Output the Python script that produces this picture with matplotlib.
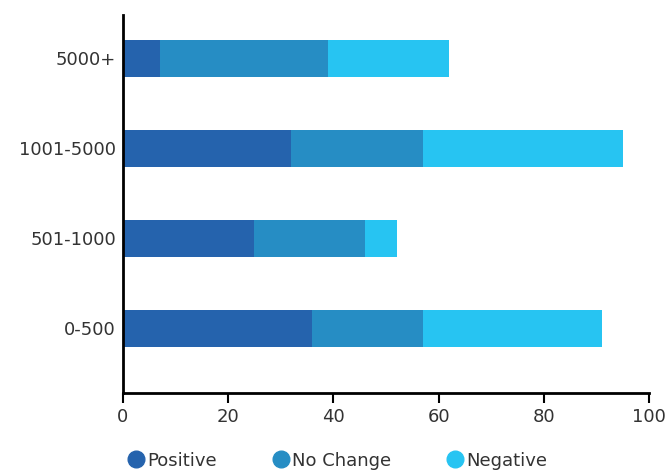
import matplotlib.pyplot as plt
from matplotlib.lines import Line2D

categories = ["0-500", "501-1000", "1001-5000", "5000+"]
positive = [36, 25, 32, 7]
no_change = [21, 21, 25, 32]
negative = [34, 6, 38, 23]

colors = ["#2563ad", "#268dc4", "#27c4f2"]
labels = ["Positive", "No Change", "Negative"]

plt.rcParams["font.family"] = ["DejaVu Sans"]

fig = plt.figure(figsize=(6.68, 4.75), dpi=100)
ax = fig.add_axes([0.1841, 0.1726, 0.7875, 0.7958])

y = range(len(categories))
left = [0] * len(categories)
for vals, color in zip([positive, no_change, negative], colors):
    ax.barh(y, vals, left=left, height=0.41, color=color)
    left = [a + b for a, b in zip(left, vals)]

ax.set_xlim(0, 100)
ax.set_ylim(-0.72, 3.48)
ax.set_xticks([0, 20, 40, 60, 80, 100])
ax.set_yticks(list(y))
ax.set_yticklabels(categories)
ax.tick_params(axis="both", labelsize=13, colors="#333333")
ax.tick_params(axis="y", length=0, pad=5)
ax.tick_params(axis="x", length=7, width=1.5, color="black")
for s in ["top", "right"]:
    ax.spines[s].set_visible(False)
for s in ["left", "bottom"]:
    ax.spines[s].set_linewidth(2)

handles = [Line2D([], [], marker="o", linestyle="", markersize=12, color=c) for c in colors]
fig.legend(handles, labels, loc="center left", bbox_to_anchor=(0.163, 0.03),
           ncol=3, frameon=False, fontsize=13, handletextpad=0.05,
           columnspacing=2.9, handlelength=1.2, labelcolor="#333333")

fig.savefig("out.png", dpi=100)
